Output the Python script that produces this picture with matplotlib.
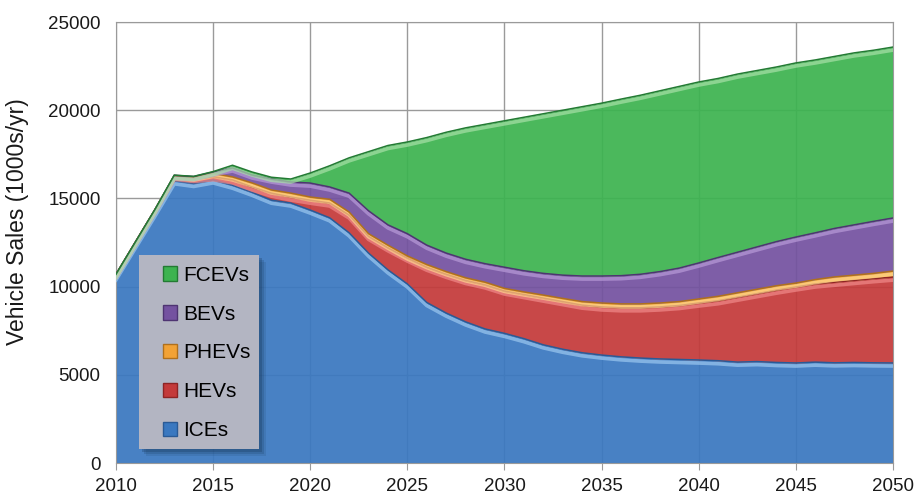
import matplotlib.pyplot as plt
import matplotlib.patheffects as pe
from matplotlib.patches import Patch, Rectangle
import numpy as np

# annual light-duty vehicle sales by technology, thousands per year
years = list(range(2010, 2051))

ices = [10550, 12350, 14150, 16000, 15850, 16050, 15750, 15350, 14900, 14740,
        14340, 13900, 13050, 11900, 10950, 10150, 9100, 8500, 8000, 7600,
        7350, 7050, 6700, 6450, 6250, 6120, 6020, 5950, 5900, 5870,
        5840, 5800, 5720, 5750, 5700, 5670, 5720, 5680, 5700, 5680, 5670]
hevs = [150, 180, 200, 250, 280, 180, 300, 300, 400, 340,
        560, 840, 1010, 950, 1250, 1470, 2000, 2200, 2350, 2500,
        2400, 2500, 2650, 2700, 2700, 2730, 2780, 2850, 2950, 3060,
        3230, 3400, 3680, 3850, 4100, 4310, 4430, 4570, 4650, 4770, 4870]
phevs = [0, 0, 10, 50, 80, 190, 170, 230, 180, 220,
         180, 210, 170, 150, 150, 120, 150, 150, 150, 150,
         150, 150, 170, 180, 200, 220, 220, 220, 220, 220,
         230, 250, 250, 250, 250, 220, 250, 300, 300, 300, 340]
bevs = [0, 0, 0, 10, 30, 80, 510, 450, 620, 630,
        790, 700, 1070, 1300, 1150, 1260, 1100, 1050, 1050, 1050,
        1200, 1200, 1230, 1320, 1450, 1530, 1600, 1680, 1780, 1900,
        2040, 2200, 2300, 2400, 2500, 2610, 2650, 2750, 2850, 2950, 3010]
fcevs = [0, 0, 0, 10, 10, 20, 150, 170, 100, 170,
         570, 1200, 2000, 3350, 4500, 5200, 6100, 6850, 7450, 7900,
         8300, 8700, 9050, 9350, 9600, 9800, 10010, 10150, 10250, 10300,
         10260, 10150, 10100, 10000, 9900, 9870, 9800, 9750, 9750, 9700, 9690]

labels = ['ICEs', 'HEVs', 'PHEVs', 'BEVs', 'FCEVs']
fills = ['#3a78c0', '#c43a3a', '#f2a235', '#7452a0', '#3db350']
edges = ['#2a5a96', '#8e2424', '#b0701c', '#4e3472', '#237a33']
glows = ['#9cc8f0', '#f08a8a', '#ffd890', '#b89ad8', '#a8e0a8']

plt.rcParams['font.family'] = ['Liberation Sans', 'DejaVu Sans']

fig = plt.figure(figsize=(9.19, 4.99), dpi=100)
ax = fig.add_axes([0.1262, 0.0721, 0.8455, 0.8838])

ax.grid(True, color='#9a9a9a', linewidth=1.0, zorder=0)
ax.set_axisbelow(True)

series = [ices, hevs, phevs, bevs, fcevs]
x = np.array(years)
base = np.zeros(len(years))
for vals, fc in zip(series, fills):
    top = base + np.array(vals)
    ax.fill_between(x, base, top, color=fc, alpha=0.93, linewidth=0, zorder=2)
    base = top

# bevelled edges along the top of each layer
base = np.zeros(len(years))
for vals, ec, gl in zip(series, edges, glows):
    top = base + np.array(vals)
    ax.plot(x, top, color=ec, linewidth=1.1, zorder=3,
            path_effects=[pe.SimpleLineShadow(offset=(0, -2.2), shadow_color=gl,
                                              alpha=0.7, linewidth=2.6),
                          pe.Normal()])
    base = top

ax.set_xlim(2010, 2050)
ax.set_ylim(0, 25000)
ax.set_xticks(range(2010, 2051, 5))
ax.set_yticks(range(0, 25001, 5000))
ax.tick_params(axis='x', length=5, color='#9a9a9a', labelsize=13.5, pad=6,
               labelcolor='#1a1a1a')
ax.tick_params(axis='y', length=0, labelsize=13.5, pad=11, labelcolor='#1a1a1a')
ax.set_ylabel('Vehicle Sales (1000s/yr)', fontsize=16.5, color='#1a1a1a')
ax.yaxis.set_label_coords(-0.112, 0.5465)
for s in ax.spines.values():
    s.set_color('#9a9a9a')

# legend panel with a soft drop shadow
x0, y0, w, h = 0.0296, 0.0317, 0.1544, 0.44
for k, a in [(7, 0.12), (5, 0.18), (3, 0.25)]:
    dx = k / 777
    dy = k / 441
    ax.add_patch(Rectangle((x0 + dx, y0 - dy), w, h, transform=ax.transAxes,
                           facecolor='#14304f', alpha=a, linewidth=0, zorder=4))
ax.add_patch(Rectangle((x0, y0), w, h, transform=ax.transAxes,
                       facecolor='#b3b5c2', linewidth=0, zorder=4.5))

handles = [Patch(facecolor=fc, edgecolor=ec, label=lb)
           for fc, ec, lb in zip(fills, edges, labels)][::-1]
leg = ax.legend(handles=handles, loc='upper left', bbox_to_anchor=(0.0605, 0.447),
                fontsize=15, frameon=False,
                handlelength=0.68, handleheight=0.68, handletextpad=0.3,
                labelspacing=0.95, borderpad=0, borderaxespad=0)
leg.set_zorder(6)

plt.savefig('out.png', dpi=100)
